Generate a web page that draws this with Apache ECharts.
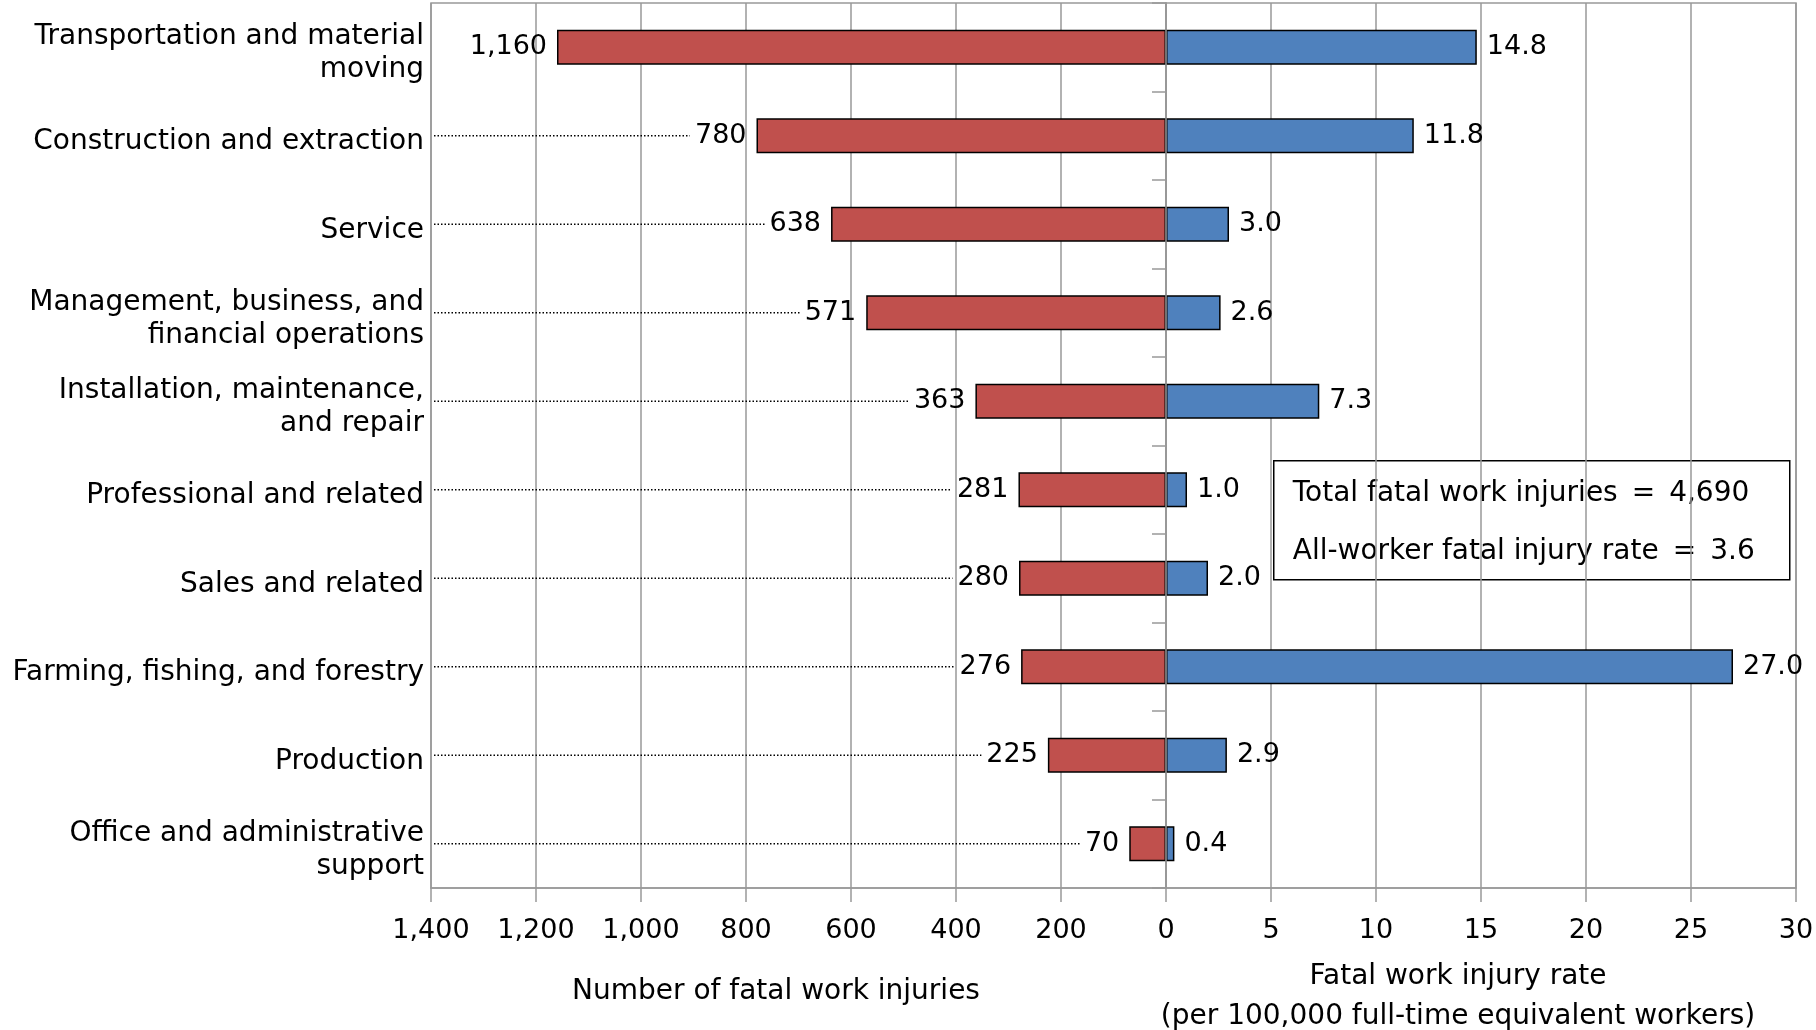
<!DOCTYPE html>
<html>
<head>
<meta charset="utf-8">
<title>Fatal work injuries by occupation</title>
<script src="https://cdn.jsdelivr.net/npm/echarts@6/dist/echarts.min.js"></script>
<style>
  html, body { margin: 0; padding: 0; background: #ffffff; }
  #chart { width: 1816px; height: 1030px; }
</style>
</head>
<body>
<div id="chart"></div>
<script>
// Occupation groups, top to bottom
const categories = [
  'Transportation and material\nmoving',
  'Construction and extraction',
  'Service',
  'Management, business, and\nfinancial operations',
  'Installation, maintenance,\nand repair',
  'Professional and related',
  'Sales and related',
  'Farming, fishing, and forestry',
  'Production',
  'Office and administrative\nsupport'
];

// Number of fatal work injuries
const fatalCounts = [1160, 780, 638, 571, 363, 281, 280, 276, 225, 70];

// Fatal work injury rate per 100,000 full-time equivalent workers
const fatalRates = [14.8, 11.8, 3.0, 2.6, 7.3, 1.0, 2.0, 27.0, 2.9, 0.4];

// Axis ranges
const countAxis = { min: 0, max: 1400, interval: 200 };
const rateAxis = { min: 0, max: 30, interval: 5 };

// Summary figures
const totalFatal = 4690;
const allWorkerRate = 3.6;

const FONT = '"DejaVu Sans", Verdana, sans-serif';
const GRID_COLOR = '#999999';
const RED = '#C0504D';
const BLUE = '#4F81BD';
const VALUE_FONT_SIZE = 27;
const LABEL_GAP = 10;
const EQ = '\u2002=\u2002';

const fmtInt = v => Number(v).toLocaleString('en-US');
const fmtRate = v => Number(v).toFixed(1);

// Width of a value label, for ending the dotted leader lines before it
const measureCtx = document.createElement('canvas').getContext('2d');
measureCtx.font = VALUE_FONT_SIZE + 'px ' + FONT;
const textWidth = s => measureCtx.measureText(s).width;

const chart = echarts.init(document.getElementById('chart'), null, { renderer: 'canvas' });

const gridBase = { top: 3, height: 885, show: true, borderColor: GRID_COLOR, borderWidth: 1.5, containLabel: false, outerBoundsMode: 'none' };

const option = {
  backgroundColor: '#ffffff',
  animation: false,
  textStyle: { fontFamily: FONT, color: '#000' },
  grid: [
    Object.assign({ left: 431, width: 735 }, gridBase),
    Object.assign({ left: 1166, width: 630 }, gridBase)
  ],
  xAxis: [
    {
      gridIndex: 0, type: 'value', inverse: true,
      min: countAxis.min, max: countAxis.max, interval: countAxis.interval,
      axisLine: { show: true, lineStyle: { color: GRID_COLOR, width: 1.5 } },
      axisTick: { show: true, length: 14, lineStyle: { color: GRID_COLOR, width: 1.5 } },
      splitLine: { show: true, lineStyle: { color: GRID_COLOR, width: 1.5 } },
      axisLabel: { formatter: fmtInt, fontSize: 27, color: '#000', fontFamily: FONT, margin: 29, showMinLabel: true, showMaxLabel: true },
      name: 'Number of fatal work injuries',
      nameLocation: 'middle', nameGap: 90,
      nameTextStyle: { fontSize: 28, color: '#000', fontFamily: FONT, padding: [0, 45, 0, 0] }
    },
    {
      gridIndex: 1, type: 'value',
      min: rateAxis.min, max: rateAxis.max, interval: rateAxis.interval,
      axisLine: { show: true, lineStyle: { color: GRID_COLOR, width: 1.5 } },
      axisTick: { show: true, length: 14, lineStyle: { color: GRID_COLOR, width: 1.5 } },
      splitLine: { show: true, lineStyle: { color: GRID_COLOR, width: 1.5 } },
      axisLabel: { fontSize: 27, color: '#000', fontFamily: FONT, margin: 29, showMinLabel: false, showMaxLabel: true },
      name: 'Fatal work injury rate\n(per 100,000 full-time equivalent workers)',
      nameLocation: 'middle', nameGap: 69,
      nameTextStyle: { fontSize: 28, lineHeight: 40, color: '#000', fontFamily: FONT, align: 'center', padding: [0, 46, 0, 0] }
    }
  ],
  yAxis: [
    {
      // Occupation names along the left edge; a thin spacer line drops each name a little
      gridIndex: 0, type: 'category', data: categories, inverse: true, position: 'left',
      axisLine: { show: false }, axisTick: { show: false }, splitLine: { show: false },
      axisLabel: {
        fontSize: 28, lineHeight: 33, color: '#000', fontFamily: FONT, align: 'right', margin: 7,
        formatter: v => '{s| }\n' + v,
        rich: { s: { fontSize: 1, lineHeight: 12 } }
      }
    },
    {
      // Zero line with tick marks between groups
      gridIndex: 0, type: 'category', data: categories, inverse: true, position: 'right', z: 10,
      axisLine: { show: true, lineStyle: { color: GRID_COLOR, width: 1.5 } },
      axisTick: { show: true, inside: true, length: 14, lineStyle: { color: GRID_COLOR, width: 1.5 } },
      axisLabel: { show: false }, splitLine: { show: false }
    },
    {
      gridIndex: 1, type: 'category', data: categories, inverse: true, position: 'left',
      axisLine: { show: false }, axisTick: { show: false }, axisLabel: { show: false }, splitLine: { show: false }
    }
  ],
  series: [
    {
      // Dotted leaders from the occupation names to the count labels
      type: 'custom', xAxisIndex: 0, yAxisIndex: 0, z: 1, silent: true,
      data: fatalCounts.map((v, i) => [v, i]),
      encode: { x: 0, y: 1 },
      renderItem: function (params, api) {
        const v = api.value(0);
        const idx = api.value(1);
        const barEnd = api.coord([v, idx]);
        const edge = api.coord([countAxis.max, idx]);
        const x1 = edge[0] + 3;
        const x2 = barEnd[0] - LABEL_GAP - textWidth(fmtInt(v)) - 5;
        if (x2 - x1 < 60) return null;
        return {
          type: 'line',
          shape: { x1: x1, y1: barEnd[1], x2: x2, y2: barEnd[1] },
          style: { stroke: '#000', lineWidth: 1.4, lineDash: [1.5, 2] }
        };
      }
    },
    {
      name: 'Number of fatal work injuries',
      type: 'bar', xAxisIndex: 0, yAxisIndex: 0, z: 2,
      data: fatalCounts, barWidth: 35,
      itemStyle: { color: RED, borderColor: '#000', borderWidth: 1.5 },
      label: {
        show: true, position: 'left', distance: LABEL_GAP,
        formatter: p => fmtInt(p.value),
        fontSize: VALUE_FONT_SIZE, color: '#000', fontFamily: FONT
      }
    },
    {
      name: 'Fatal work injury rate',
      type: 'bar', xAxisIndex: 1, yAxisIndex: 2, z: 2,
      data: fatalRates, barWidth: 35,
      itemStyle: { color: BLUE, borderColor: '#000', borderWidth: 1.5 },
      label: {
        show: true, position: 'right', distance: LABEL_GAP,
        formatter: p => fmtRate(p.value),
        fontSize: VALUE_FONT_SIZE, color: '#000', fontFamily: FONT
      }
    }
  ],
  graphic: [
    {
      type: 'group', left: 1273, top: 460, z: 100,
      children: [
        { type: 'rect', shape: { x: 0, y: 0, width: 516, height: 119 },
          style: { fill: '#ffffff', stroke: '#000', lineWidth: 1.5 } },
        { type: 'text', x: 19, y: 33,
          style: { text: 'Total fatal work injuries' + EQ + fmtInt(totalFatal), font: '28px ' + FONT, fill: '#000', verticalAlign: 'middle' } },
        { type: 'text', x: 19, y: 91,
          style: { text: 'All-worker fatal injury rate' + EQ + fmtRate(allWorkerRate), font: '28px ' + FONT, fill: '#000', verticalAlign: 'middle' } }
      ]
    }
  ]
};

chart.setOption(option);
</script>
</body>
</html>
